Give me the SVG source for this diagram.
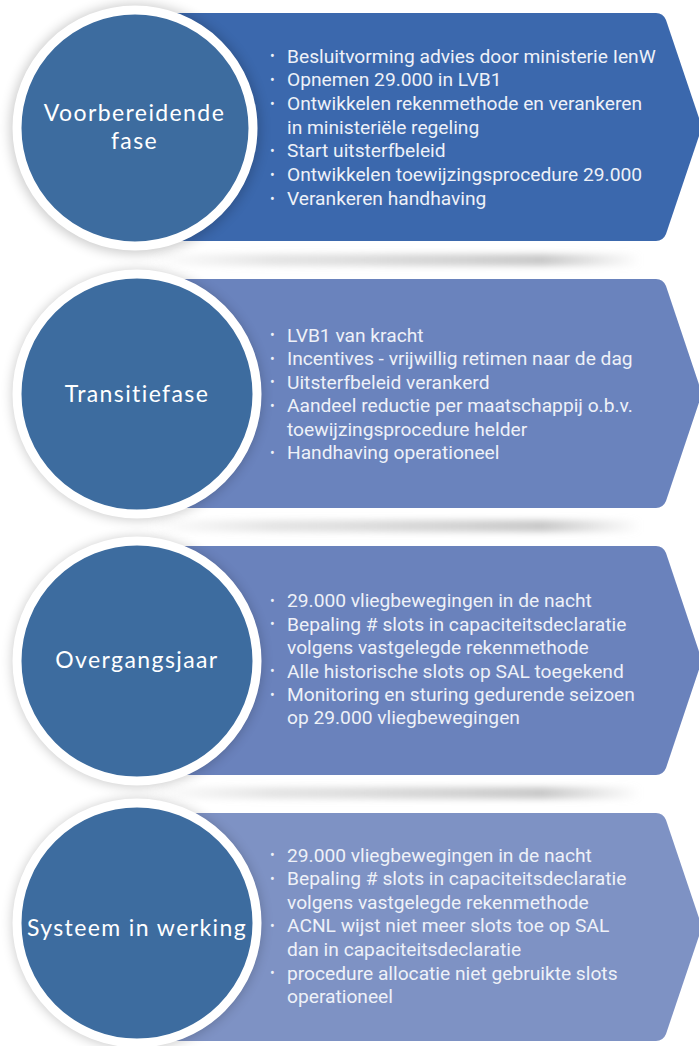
<svg xmlns="http://www.w3.org/2000/svg" width="699" height="1046" viewBox="0 0 699 1046">
<defs>
<style>
.b1{fill:#3b68ad}.b2{fill:#6a83bd}.b3{fill:#6a82bc}.b4{fill:#7e92c4}
.circ{fill:#3d6c9f;stroke:#ffffff;stroke-width:9}
.cshadow{fill:#000;opacity:0.2}
.lbl{font-family:Lato,"Noto Sans",sans-serif;font-size:23px;letter-spacing:1.4px;fill:#ffffff;text-anchor:middle}
.txt{font-family:Roboto,"Liberation Sans",sans-serif;font-size:19.2px;fill:#eef1f8}
.bul{font-family:Roboto,"Liberation Sans",sans-serif;font-size:14px;fill:#eef1f8}
</style>
<filter id="blur" x="-20%" y="-20%" width="140%" height="140%"><feGaussianBlur stdDeviation="6"/></filter>
<filter id="sblur" x="-10%" y="-100%" width="120%" height="300%"><feGaussianBlur stdDeviation="3"/></filter>
<linearGradient id="band" x1="0" y1="0" x2="1" y2="0">
<stop offset="0" stop-color="#d4d4d4" stop-opacity="0"/>
<stop offset="0.25" stop-color="#d4d4d4" stop-opacity="0.6"/>
<stop offset="0.8" stop-color="#c8c8c8" stop-opacity="1"/>
<stop offset="1" stop-color="#c8c8c8" stop-opacity="0"/>
</linearGradient>
</defs>
<rect width="699" height="1046" fill="#ffffff"/>
<g id="shadows">
<rect x="150" y="254" width="490" height="12" fill="url(#band)" filter="url(#sblur)"/>
<rect x="150" y="520" width="490" height="12" fill="url(#band)" filter="url(#sblur)"/>
<rect x="150" y="787" width="490" height="12" fill="url(#band)" filter="url(#sblur)"/>
</g>
<g id="phase1">
<path class="b1" d="M130,13 H656 Q663,13 666,20 L702,127 L666,234 Q663,241 656,241 H130 Z"/>
<circle class="cshadow" cx="135" cy="129" r="125" filter="url(#blur)"/>
<circle class="circ" cx="135" cy="128" r="118"/>
<text class="lbl" x="134.5" y="121">Voorbereidende</text>
<text class="lbl" x="134.5" y="149">fase</text>
<text class="bul" x="270" y="61">•</text><text class="txt" x="287" y="62.5">Besluitvorming advies door ministerie IenW</text>
<text class="bul" x="270" y="85">•</text><text class="txt" x="287" y="86.2">Opnemen 29.000 in LVB1</text>
<text class="bul" x="270" y="108.5">•</text><text class="txt" x="287" y="110">Ontwikkelen rekenmethode en verankeren</text>
<text class="txt" x="287" y="133.7">in ministeriële regeling</text>
<text class="bul" x="270" y="156">•</text><text class="txt" x="287" y="157.4">Start uitsterfbeleid</text>
<text class="bul" x="270" y="180">•</text><text class="txt" x="287" y="181.2">Ontwikkelen toewijzingsprocedure 29.000</text>
<text class="bul" x="270" y="203.5">•</text><text class="txt" x="287" y="205">Verankeren handhaving</text>
</g>
<g id="phase2">
<path class="b2" d="M130,279 H656 Q663,279 666,286 L702,393.5 L666,501 Q663,508 656,508 H130 Z"/>
<circle class="cshadow" cx="137" cy="395" r="125" filter="url(#blur)"/>
<circle class="circ" cx="137" cy="394" r="120"/>
<text class="lbl" x="137" y="402">Transitiefase</text>
<text class="bul" x="270" y="340">•</text><text class="txt" x="287" y="341.5">LVB1 van kracht</text>
<text class="bul" x="270" y="363.5">•</text><text class="txt" x="287" y="365">Incentives - vrijwillig retimen naar de dag</text>
<text class="bul" x="270" y="387">•</text><text class="txt" x="287" y="388.5">Uitsterfbeleid verankerd</text>
<text class="bul" x="270" y="410.5">•</text><text class="txt" x="287" y="412">Aandeel reductie per maatschappij o.b.v.</text>
<text class="txt" x="287" y="435.5">toewijzingsprocedure helder</text>
<text class="bul" x="270" y="457.5">•</text><text class="txt" x="287" y="459">Handhaving operationeel</text>
</g>
<g id="phase3">
<path class="b3" d="M130,546 H656 Q663,546 666,553 L702,660.5 L666,768 Q663,775 656,775 H130 Z"/>
<circle class="cshadow" cx="137" cy="662" r="125" filter="url(#blur)"/>
<circle class="circ" cx="137" cy="661" r="120"/>
<text class="lbl" x="137" y="668">Overgangsjaar</text>
<text class="bul" x="270" y="605.5">•</text><text class="txt" x="287" y="607">29.000 vliegbewegingen in de nacht</text>
<text class="bul" x="270" y="629">•</text><text class="txt" x="287" y="630.5">Bepaling # slots in capaciteitsdeclaratie</text>
<text class="txt" x="287" y="654">volgens vastgelegde rekenmethode</text>
<text class="bul" x="270" y="676">•</text><text class="txt" x="287" y="677.5">Alle historische slots op SAL toegekend</text>
<text class="bul" x="270" y="699.5">•</text><text class="txt" x="287" y="701">Monitoring en sturing gedurende seizoen</text>
<text class="txt" x="287" y="724">op 29.000 vliegbewegingen</text>
</g>
<g id="phase4">
<path class="b4" d="M130,813 H656 Q663,813 666,820 L702,927 L666,1034 Q663,1041 656,1041 H130 Z"/>
<circle class="cshadow" cx="137" cy="924" r="125" filter="url(#blur)"/>
<circle class="circ" cx="137" cy="923" r="120"/>
<text class="lbl" x="137" y="936">Systeem in werking</text>
<text class="bul" x="270" y="860">•</text><text class="txt" x="287" y="861.5">29.000 vliegbewegingen in de nacht</text>
<text class="bul" x="270" y="883.5">•</text><text class="txt" x="287" y="885">Bepaling # slots in capaciteitsdeclaratie</text>
<text class="txt" x="287" y="908.5">volgens vastgelegde rekenmethode</text>
<text class="bul" x="270" y="930.5">•</text><text class="txt" x="287" y="932">ACNL wijst niet meer slots toe op SAL</text>
<text class="txt" x="287" y="955.5">dan in capaciteitsdeclaratie</text>
<text class="bul" x="270" y="978">•</text><text class="txt" x="287" y="979.5">procedure allocatie niet gebruikte slots</text>
<text class="txt" x="287" y="1003">operationeel</text>
</g>
</svg>
